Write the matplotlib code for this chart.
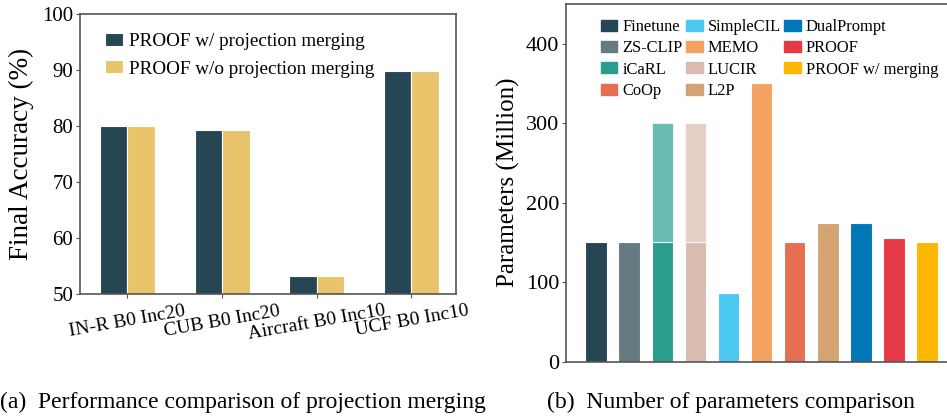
import matplotlib
matplotlib.use("Agg")
import matplotlib.pyplot as plt
import numpy as np

plt.rcParams['font.family'] = ['Liberation Serif', 'DejaVu Serif']

# --- (a) projection merging ---
datasets = ['IN-R B0 Inc20', 'CUB B0 Inc20', 'Aircraft B0 Inc10', 'UCF B0 Inc10']
acc_merge = [80.0, 79.3, 53.3, 89.8]
acc_nomerge = [80.0, 79.3, 53.3, 89.8]

# --- (b) parameter counts ---
methods = ['Finetune', 'ZS-CLIP', 'iCaRL', 'CoOp', 'SimpleCIL', 'MEMO',
           'LUCIR', 'L2P', 'DualPrompt', 'PROOF', 'PROOF w/ merging']
bar_order = ['Finetune', 'ZS-CLIP', 'iCaRL', 'LUCIR', 'SimpleCIL', 'MEMO',
             'CoOp', 'L2P', 'DualPrompt', 'PROOF', 'PROOF w/ merging']
params_base = [150, 150, 150, 150, 86, 350, 150, 174, 174, 155.5, 151]
params_extra = [0, 0, 150, 150, 0, 0, 0, 0, 0, 0, 0]   # exemplar-model part (stacked)
colors = {'Finetune': '#264653', 'ZS-CLIP': '#657a81', 'iCaRL': '#2a9d8f',
          'LUCIR': '#d8bcaf', 'SimpleCIL': '#4cc9f0', 'MEMO': '#f4a261',
          'CoOp': '#e76f51', 'L2P': '#d4a373', 'DualPrompt': '#0077b6',
          'PROOF': '#e63946', 'PROOF w/ merging': '#ffb703'}

spine_c = '#555555'

fig = plt.figure(figsize=(9.47, 4.19), dpi=100)

ax1 = fig.add_axes([0.0845, 0.298, 0.397, 0.668])
x = np.arange(len(datasets))
w = 0.29
ax1.bar(x - w / 2, acc_merge, w, color='#264653', edgecolor='white', linewidth=0.8,
        label='PROOF w/ projection merging')
ax1.bar(x + w / 2, acc_nomerge, w, color='#e9c46a', edgecolor='white', linewidth=0.8,
        label='PROOF w/o projection merging')
ax1.set_ylim(50, 100)
ax1.set_xlim(-0.5, 3.47)
ax1.set_yticks([50, 60, 70, 80, 90, 100])
ax1.set_xticks(x)
ax1.set_xticklabels(datasets, rotation=10, ha='center', fontsize=14)
ax1.tick_params(axis='y', labelsize=15, length=3, color=spine_c, pad=2)
ax1.tick_params(axis='x', length=3, color=spine_c, pad=3)
ax1.set_ylabel('Final Accuracy (%)', fontsize=19.5, labelpad=6)
for s in ax1.spines.values():
    s.set_color(spine_c)
    s.set_linewidth(1.2)
ax1.legend(loc='upper left', bbox_to_anchor=(0.035, 0.975), frameon=False,
           fontsize=13.8, handlelength=0.95, handleheight=0.65, handletextpad=0.3,
           labelspacing=0.55, borderaxespad=0.2)

ax2 = fig.add_axes([0.598, 0.137, 0.402, 0.854])
xb = np.arange(len(bar_order))
for i, name in enumerate(bar_order):
    ax2.bar(xb[i], params_base[i], 0.65, color=colors[name], edgecolor='white', linewidth=0.8)
    if params_extra[i] > 0:
        ax2.bar(xb[i], params_extra[i], 0.65, bottom=params_base[i], color=colors[name],
                alpha=0.7, edgecolor='white', linewidth=0.8)
handles = [plt.Rectangle((0, 0), 1, 1, color=colors[m]) for m in methods]
ax2.legend(handles, methods, loc='upper left', bbox_to_anchor=(0.065, 0.985), ncol=3,
           frameon=False, fontsize=11.9, handlelength=1.0, handleheight=0.65,
           handletextpad=0.3, columnspacing=0.2, labelspacing=0.32, borderaxespad=0.2)
ax2.set_ylim(0, 450)
ax2.set_xlim(-0.9, 10.6)
ax2.set_xticks([])
ax2.set_yticks([0, 100, 200, 300, 400])
ax2.tick_params(axis='y', labelsize=16, length=3, color=spine_c, pad=2)
ax2.set_ylabel('Parameters (Million)', fontsize=18, labelpad=4)
for s in ax2.spines.values():
    s.set_color(spine_c)
    s.set_linewidth(1.2)
ax2.spines['right'].set_visible(False)

fig.text(0.0, 0.04, '(a)  Performance comparison of projection merging', fontsize=17,
         va='center', ha='left')
fig.text(0.578, 0.04, '(b)  Number of parameters comparison', fontsize=17,
         va='center', ha='left')

fig.savefig('out.png', dpi=100)
